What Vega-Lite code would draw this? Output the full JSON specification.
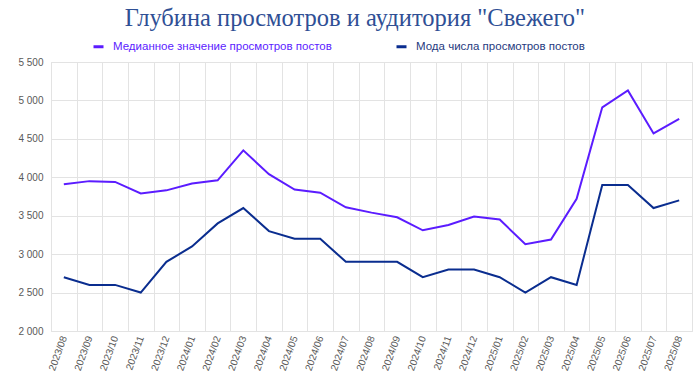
{
  "$schema": "https://vega.github.io/schema/vega-lite/v6.json",
  "width": 700,
  "height": 376,
  "autosize": {"type": "fit", "contains": "padding"},
  "padding": {"top": 5, "left": 17, "right": 8, "bottom": 4},
  "background": "white",
  "title": {
    "text": "Глубина просмотров и аудитория \"Свежего\"",
    "font": "Liberation Serif",
    "fontSize": 24.5,
    "fontWeight": "normal",
    "color": "#2f4f95",
    "anchor": "middle",
    "frame": "bounds",
    "offset": 26
  },
  "data": {
    "values": [
      {"month": "2023/08", "series": "Медианное значение просмотров постов", "value": 3910},
      {"month": "2023/09", "series": "Медианное значение просмотров постов", "value": 3950},
      {"month": "2023/10", "series": "Медианное значение просмотров постов", "value": 3940},
      {"month": "2023/11", "series": "Медианное значение просмотров постов", "value": 3790},
      {"month": "2023/12", "series": "Медианное значение просмотров постов", "value": 3830},
      {"month": "2024/01", "series": "Медианное значение просмотров постов", "value": 3920},
      {"month": "2024/02", "series": "Медианное значение просмотров постов", "value": 3960},
      {"month": "2024/03", "series": "Медианное значение просмотров постов", "value": 4350},
      {"month": "2024/04", "series": "Медианное значение просмотров постов", "value": 4040},
      {"month": "2024/05", "series": "Медианное значение просмотров постов", "value": 3840},
      {"month": "2024/06", "series": "Медианное значение просмотров постов", "value": 3800},
      {"month": "2024/07", "series": "Медианное значение просмотров постов", "value": 3610},
      {"month": "2024/08", "series": "Медианное значение просмотров постов", "value": 3540},
      {"month": "2024/09", "series": "Медианное значение просмотров постов", "value": 3480},
      {"month": "2024/10", "series": "Медианное значение просмотров постов", "value": 3310},
      {"month": "2024/11", "series": "Медианное значение просмотров постов", "value": 3380},
      {"month": "2024/12", "series": "Медианное значение просмотров постов", "value": 3490},
      {"month": "2025/01", "series": "Медианное значение просмотров постов", "value": 3450},
      {"month": "2025/02", "series": "Медианное значение просмотров постов", "value": 3130},
      {"month": "2025/03", "series": "Медианное значение просмотров постов", "value": 3190},
      {"month": "2025/04", "series": "Медианное значение просмотров постов", "value": 3720},
      {"month": "2025/05", "series": "Медианное значение просмотров постов", "value": 4910},
      {"month": "2025/06", "series": "Медианное значение просмотров постов", "value": 5130},
      {"month": "2025/07", "series": "Медианное значение просмотров постов", "value": 4570},
      {"month": "2025/08", "series": "Медианное значение просмотров постов", "value": 4760},
      {"month": "2023/08", "series": "Мода числа просмотров постов", "value": 2700},
      {"month": "2023/09", "series": "Мода числа просмотров постов", "value": 2600},
      {"month": "2023/10", "series": "Мода числа просмотров постов", "value": 2600},
      {"month": "2023/11", "series": "Мода числа просмотров постов", "value": 2500},
      {"month": "2023/12", "series": "Мода числа просмотров постов", "value": 2900},
      {"month": "2024/01", "series": "Мода числа просмотров постов", "value": 3100},
      {"month": "2024/02", "series": "Мода числа просмотров постов", "value": 3400},
      {"month": "2024/03", "series": "Мода числа просмотров постов", "value": 3600},
      {"month": "2024/04", "series": "Мода числа просмотров постов", "value": 3300},
      {"month": "2024/05", "series": "Мода числа просмотров постов", "value": 3200},
      {"month": "2024/06", "series": "Мода числа просмотров постов", "value": 3200},
      {"month": "2024/07", "series": "Мода числа просмотров постов", "value": 2900},
      {"month": "2024/08", "series": "Мода числа просмотров постов", "value": 2900},
      {"month": "2024/09", "series": "Мода числа просмотров постов", "value": 2900},
      {"month": "2024/10", "series": "Мода числа просмотров постов", "value": 2700},
      {"month": "2024/11", "series": "Мода числа просмотров постов", "value": 2800},
      {"month": "2024/12", "series": "Мода числа просмотров постов", "value": 2800},
      {"month": "2025/01", "series": "Мода числа просмотров постов", "value": 2700},
      {"month": "2025/02", "series": "Мода числа просмотров постов", "value": 2500},
      {"month": "2025/03", "series": "Мода числа просмотров постов", "value": 2700},
      {"month": "2025/04", "series": "Мода числа просмотров постов", "value": 2600},
      {"month": "2025/05", "series": "Мода числа просмотров постов", "value": 3900},
      {"month": "2025/06", "series": "Мода числа просмотров постов", "value": 3900},
      {"month": "2025/07", "series": "Мода числа просмотров постов", "value": 3600},
      {"month": "2025/08", "series": "Мода числа просмотров постов", "value": 3700}
    ]
  },
  "mark": {"type": "line", "strokeWidth": 2, "strokeJoin": "miter"},
  "encoding": {
    "x": {
      "field": "month",
      "type": "ordinal",
      "bandPosition": 0.5,
      "scale": {"type": "band", "paddingInner": 0, "paddingOuter": 0},
      "axis": {
        "title": null,
        "tickBand": "extent",
        "grid": true,
        "gridColor": "#e3e3e3",
        "domain": false,
        "ticks": false,
        "labelAngle": -70,
        "labelFont": "Liberation Sans",
        "labelFontSize": 10,
        "labelColor": "#595959",
        "labelPadding": 5
      }
    },
    "y": {
      "field": "value",
      "type": "quantitative",
      "scale": {"domain": [2000, 5500], "nice": false, "zero": false},
      "axis": {
        "title": null,
        "values": [2000, 2500, 3000, 3500, 4000, 4500, 5000, 5500],
        "labelExpr": "replace(format(datum.value, ','), ',', ' ')",
        "grid": true,
        "gridColor": "#e3e3e3",
        "domain": false,
        "ticks": false,
        "labelFont": "Liberation Sans",
        "labelFontSize": 10,
        "labelColor": "#595959",
        "labelPadding": 8
      }
    },
    "color": {
      "field": "series",
      "type": "nominal",
      "scale": {
        "domain": ["Медианное значение просмотров постов", "Мода числа просмотров постов"],
        "range": ["#5b1cff", "#0a2d8f"]
      },
      "legend": {
        "title": null,
        "orient": "none",
        "direction": "horizontal",
        "legendX": 41,
        "legendY": -22,
        "symbolType": "stroke",
        "symbolSize": 100,
        "symbolStrokeWidth": 3,
        "labelFont": "Liberation Sans",
        "labelFontSize": 11.5,
        "labelLimit": 0,
        "columnPadding": 58,
        "labelOffset": 8,
        "encode": {
          "labels": {
            "update": {
              "fill": {"signal": "datum.value == 'Мода числа просмотров постов' ? '#1f3a80' : '#5b1cff'"}
            }
          }
        }
      }
    }
  },
  "config": {
    "view": {"stroke": "#e3e3e3"}
  }
}
